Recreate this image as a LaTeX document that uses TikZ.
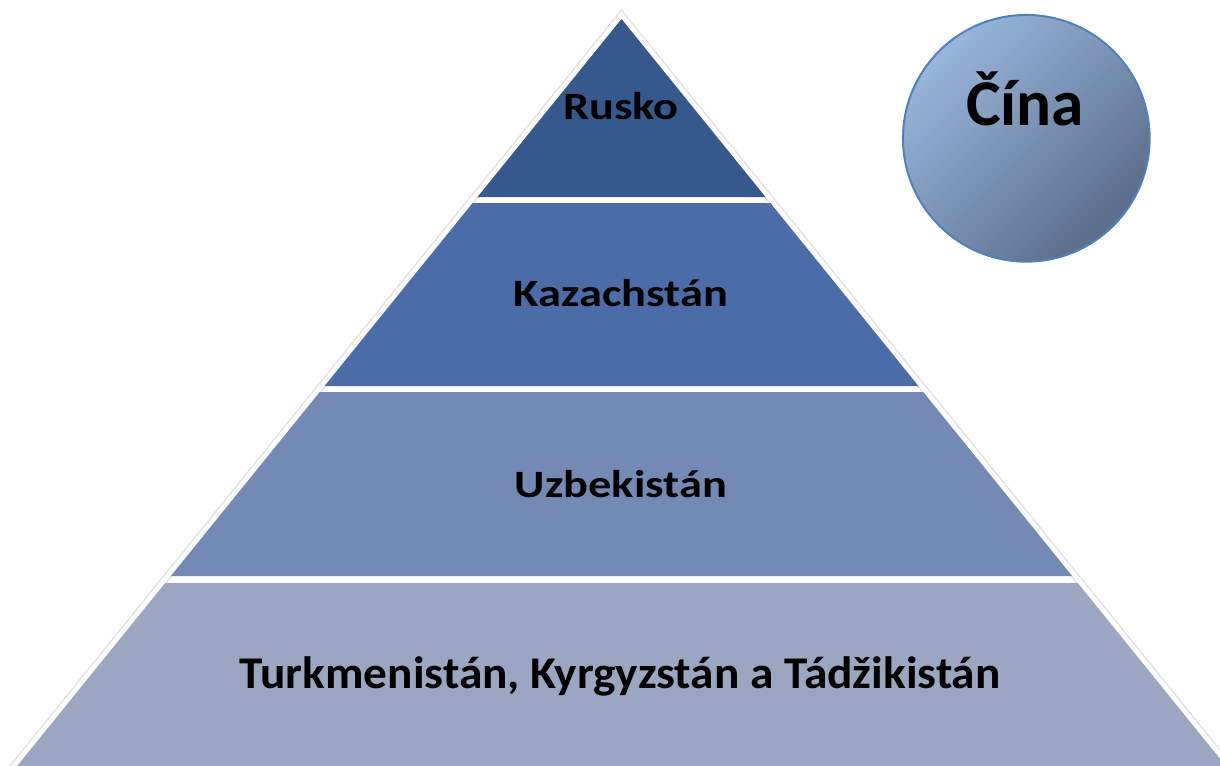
\documentclass[tikz,border=0pt]{standalone}
\usepackage{fontspec}
\newfontfamily\labelfont{Carlito}
\begin{document}
\begin{tikzpicture}[x=0.75pt,y=-0.75pt,
  bandA/.style={fill={rgb,255:red,53;green,89;blue,140}},
  bandB/.style={fill={rgb,255:red,74;green,108;blue,168}},
  bandC/.style={fill={rgb,255:red,115;green,138;blue,181}},
  bandD/.style={fill={rgb,255:red,155;green,167;blue,194}},
  tier/.style={anchor=base,inner sep=0pt,font=\labelfont\bfseries\fontsize{29}{34}\selectfont,xscale=1.2},
]
\useasboundingbox (0,0) rectangle (1220,765);
\clip (0,0) rectangle (1220,765);
\fill[white] (0,0) rectangle (1220,765);

% pyramid: apex and slope (half width per unit of depth)
\def\ax{621.5}\def\ay{15}\def\k{0.809}
\pgfmathsetmacro{\yb}{830}
% faint grey rim behind the white outline
\draw[black!12,line width=5.5] (\ax,\ay) -- (\ax-\k*815,\yb) -- (\ax+\k*815,\yb) -- cycle;
% the four bands, separated by white gaps
\fill[bandA] (\ax,\ay) -- (\ax-\k*182,197) -- (\ax+\k*182,197) -- cycle;
\fill[bandB] (\ax-\k*188,203) -- (\ax+\k*188,203) -- (\ax+\k*371,386) -- (\ax-\k*371,386) -- cycle;
\fill[bandC] (\ax-\k*377,392) -- (\ax+\k*377,392) -- (\ax+\k*561,576) -- (\ax-\k*561,576) -- cycle;
\fill[bandD] (\ax-\k*568,583) -- (\ax+\k*568,583) -- (\ax+\k*815,\yb) -- (\ax-\k*815,\yb) -- cycle;
\draw[white,line width=3.5,line join=miter] (\ax,\ay) -- (\ax-\k*815,\yb) -- (\ax+\k*815,\yb) -- cycle;

\node[tier] (rusko) at (621,119) {Rusko};
\node[tier] (kaz) at (621,306.5) {Kazachstán};
\node[tier] (uzb) at (621,497) {Uzbekistán};
\node[tier,font=\labelfont\bfseries\fontsize{34}{40}\selectfont,xscale=0.87] (turk) at (620,688) {Turkmenistán, Kyrgyzstán a Tádžikistán};

% China as a separate disc
\node[circle,minimum size=185pt,inner sep=0pt,draw={rgb,255:red,79;green,129;blue,189},line width=1.5pt,
  top color={rgb,255:red,152;green,182;blue,218},bottom color={rgb,255:red,90;green,109;blue,138},shading angle=45]
  (cina) at (1026.3,138.3) {};
\node[anchor=base,inner sep=0pt,font=\labelfont\bfseries\fontsize{49}{56}\selectfont] (cinalabel) at (1025,125) {Čína};
\end{tikzpicture}
\end{document}
